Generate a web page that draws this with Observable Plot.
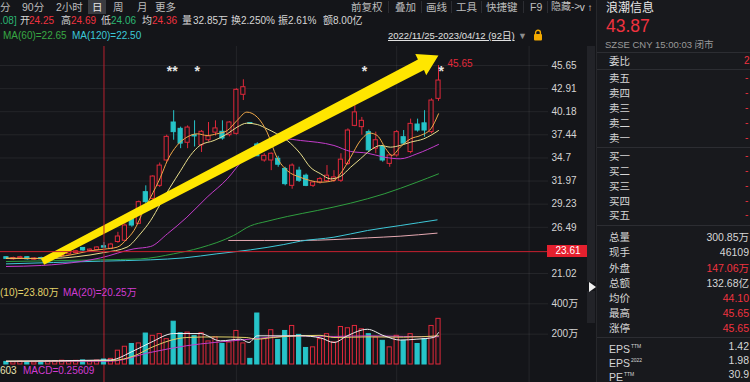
<!DOCTYPE html>
<html><head><meta charset="utf-8">
<script src="https://cdn.jsdelivr.net/npm/d3@7"></script>
<script src="https://cdn.jsdelivr.net/npm/@observablehq/plot@0.6"></script>
<style>
html,body{margin:0;padding:0;background:#141519;}
#root{position:relative;width:750px;height:382px;overflow:hidden;background:#141519;font-family:"Liberation Sans","Noto Sans CJK SC",sans-serif;color:#d6d6d6;}
#root svg{position:absolute;left:0;top:0;}
sup{font-size:5px;vertical-align:5px;margin-left:1px;}
</style></head>
<body><div id="root"></div>
<script>
// ---------- data ----------
const opens  = [22.95,22.70,22.80,22.95,22.65,22.85,22.70,22.90,23.10,23.30,23.45,24.05,23.70,23.80,24.25,23.95,24.75,24.90,27.90,26.90,30.65,29.86,31.40,34.40,38.90,38.15,36.50,37.40,36.20,36.80,37.70,37.80,37.40,37.56,42.18,38.77,36.30,34.40,34.40,34.60,33.40,31.40,33.20,32.60,31.40,31.80,31.95,32.00,32.00,34.00,38.50,38.35,37.76,35.80,36.00,34.00,35.00,37.16,35.40,38.66,38.80,37.76,41.70];
const highs  = [23.00,22.95,23.05,23.00,22.90,22.95,23.00,23.20,23.50,23.65,23.75,24.10,23.95,24.20,24.69,24.60,25.90,26.90,28.00,29.60,31.40,32.60,34.10,37.40,40.30,38.35,38.50,39.10,37.95,38.90,39.10,39.10,39.00,42.90,43.96,38.77,36.50,35.20,35.30,34.90,33.60,34.00,33.60,32.80,31.90,32.40,33.80,33.20,35.20,38.15,40.90,39.50,38.00,37.76,36.20,35.20,37.95,37.95,39.30,39.30,40.30,41.70,45.65];
const lows   = [22.70,22.60,22.70,22.60,22.55,22.60,22.65,22.85,23.00,23.20,23.35,23.60,23.60,23.70,24.06,23.85,24.60,24.80,26.50,26.80,29.30,29.70,31.20,34.20,36.80,35.80,35.80,36.00,35.35,36.60,37.30,36.80,37.20,37.40,41.50,38.77,34.90,34.20,33.20,33.60,31.40,31.00,31.80,31.30,31.20,31.60,31.80,31.80,31.80,33.80,38.40,37.40,35.40,35.20,34.20,33.60,34.80,36.20,35.20,37.76,37.16,37.56,41.40];
const closes = [22.75,22.85,22.95,22.70,22.80,22.70,22.90,23.10,23.40,23.55,23.65,23.75,23.85,24.10,24.08,24.45,25.40,26.70,26.70,29.47,29.47,32.50,33.80,37.20,37.76,36.40,38.30,37.25,37.80,37.25,38.20,37.00,38.90,42.77,43.08,38.77,34.90,34.95,35.20,33.90,31.60,33.80,32.00,31.40,31.80,32.20,32.60,32.40,34.50,37.95,40.10,39.10,35.60,36.80,34.40,35.00,37.76,36.40,38.74,37.95,37.95,41.50,43.87];
const volumes = [17,15,19,16,14,19,21,23,25,22,24,27,20,26,32.85,37,91,117,135,139,204,189,200,167,282,206,210,187,206,152,178,135,145,221,139,37,336,167,226,161,221,254,195,109,113,167,200,145,247,239,254,232,200,178,156,113,189,156,200,135,167,254,300.85];

// moving-average lines, [candle index, value]
const ma5  = [[0,22.85],[4,22.8],[8,23.05],[10,23.35],[12,23.7],[14,23.9],[15.9,24.14],[17.3,25.1],[18.3,26.1],[19.7,28.5],[20.7,30.06],[22.1,32.4],[23.1,34.4],[24.5,36.2],[25.9,37.16],[27.4,37.56],[28.8,37.36],[30.2,37.56],[31.7,37.95],[33.1,39.14],[34.5,40.13],[36,39.53],[37.4,37.76],[38.8,34.8],[40.3,33.2],[42.2,32.4],[43.6,32.03],[45.1,31.83],[47,32.03],[47.9,32.8],[49.4,34.8],[50.8,36.77],[52.2,37.64],[53.2,37.36],[54.6,35.6],[55.3,35.0],[56.5,35.98],[58,36.97],[59.4,37.36],[60.9,38.15],[62,39.93]];
const ma10 = [[0,22.8],[6,22.8],[10,23.0],[14,23.5],[17.3,24.14],[19.2,25.7],[20.7,27.3],[22.1,29.27],[23.5,31.24],[25,33.2],[26.4,35.0],[27.8,36.2],[29.8,36.77],[31.7,37.56],[33.1,38.35],[34.5,38.82],[36,38.66],[37.4,38.15],[38.8,37.56],[40.3,36.77],[42.2,35.19],[43.6,33.61],[45.1,32.82],[46.5,32.23],[47.9,32.5],[49.4,33.61],[50.8,34.6],[52.2,35.6],[53.7,36.18],[55.1,35.98],[56.5,36.18],[58,36.57],[59.9,36.97],[62,37.95]];
const ma20 = [[0,21.85],[5,21.97],[8,22.16],[13.5,22.87],[18.3,23.94],[20.7,24.22],[23.1,25.72],[25.9,27.69],[28.8,30.06],[31.7,32.23],[34.1,34.6],[36.9,36.18],[39.8,36.97],[42.2,36.77],[47,36.18],[49.4,35.47],[51.8,35.27],[54.2,34.8],[56.5,34.6],[58.9,35.19],[62,36.3]];
const ma60 = [[0,22.44],[13.5,22.64],[19.2,22.75],[24,23.35],[27.8,24.06],[32.6,25.52],[35,26.66],[37.4,27.2],[40.3,27.77],[44.6,28.48],[49.4,29.35],[54.2,30.45],[58.9,31.83],[62,32.82]];
const ma120 = [[0,22.16],[13.5,22.48],[20.7,22.64],[25.5,22.87],[30.2,23.35],[35,23.82],[39.8,24.45],[42.2,24.85],[47,25.32],[51.8,26.11],[56.5,26.7],[61.8,27.37]];
const ma250 = [[31.9,24.93],[42.2,24.93],[47,25.04],[51.8,25.24],[56.5,25.44],[61.8,25.8]];
const volMa5  = [[0,22],[14.9,30],[18.3,91],[20.7,145],[24,204],[27.8,204],[30.7,156],[33.6,167],[34.8,145],[36,189],[42.2,189],[45.1,175],[47,145],[48.9,189],[51.8,232],[54.2,189],[56.5,161],[58.9,167],[61.3,178],[62,210]];
const volMa10 = [[0,22],[15,26],[18.5,60],[20.7,110],[25.9,178],[30,182],[34.4,178],[35.9,167],[38.3,178],[42.2,190],[45,192],[47,178],[52,182],[57,180],[62,189]];
const volMa20 = [[0,20],[15,22],[20.7,80],[25.9,124],[29.8,145],[33.6,161],[37.4,178],[42.2,189],[47,185],[52,189],[57,185],[62,183]];

const priceTicks = [45.65, 42.91, 40.18, 37.44, 34.7, 31.97, 29.23, 26.49, 21.02];
const volTicks = [200, 400];
const monthStarts = [33, 56, 75];
const crossIndex = 14;
const crossPrice = 23.61;
const markers = [{i: 23, label: "**"}, {i: 27, label: "*"}, {i: 51, label: "*"}, {i: 62, label: "*"}];
// arrow drawn with the drawing tool: outline vertices as [candle index, price]
const arrowShape = [[5.41,22.07],[59.92,45.12],[60.24,44.49],[61.99,46.83],[58.67,47.0],[59.05,46.37],[4.95,22.81]];

// ---------- styling ----------
const red = "#e0293b", cyan = "#26c4c9", bg = "#141519";
const FONT = '"Liberation Sans","Noto Sans CJK SC",sans-serif';
const candles = opens.map((o, i) => {
  const c = closes[i], prev = i ? closes[i - 1] : c;
  return {i, o, h: highs[i], l: lows[i], c, v: volumes[i], up: c > o || (c === o && c >= prev)};
});
const xScale = {type: "linear", domain: [0, 62], range: [5.9, 438], axis: null};
const lineOf = (arr, color) => Plot.line(arr, {x: d => d[0], y: d => d[1], stroke: color, strokeWidth: 1, curve: "monotone-x"});
const svgStyle = {background: "transparent", color: "#d6d6d6", fontFamily: FONT, fontSize: "10px", overflow: "visible"};

const root = document.getElementById("root");

const priceChart = Plot.plot({
  width: 595, height: 382,
  marginTop: 46, marginRight: 47, marginBottom: 0, marginLeft: 0,
  style: svgStyle,
  x: xScale,
  y: {domain: [21.02, 45.65], range: [273, 65], axis: null},
  color: {type: "identity"},
  marks: [
    Plot.gridY(priceTicks, {stroke: "#ffffff", strokeOpacity: 0.07}),
    Plot.ruleX(monthStarts, {stroke: "#ffffff", strokeOpacity: 0.07}),
    Plot.ruleX(candles, {x: "i", y1: "l", y2: "h", stroke: d => d.up ? red : cyan, strokeWidth: 1}),
    Plot.rect(candles, {
      x1: d => d.i - 0.3, x2: d => d.i + 0.3,
      y1: d => Math.min(d.o, d.c), y2: d => Math.max(d.o, d.c) + (d.o === d.c ? 0.06 : 0),
      fill: d => d.up ? bg : cyan, stroke: d => d.up ? red : cyan, strokeWidth: 1
    }),
    lineOf(ma250, "#e6a9b2"),
    lineOf(ma120, "#3ec8d8"),
    lineOf(ma60, "#2f9e3f"),
    lineOf(ma20, "#c43ccb"),
    lineOf(ma10, "#e8de8c"),
    lineOf(ma5, "#f0a848"),
    Plot.line(arrowShape, {x: d => d[0], y: d => d[1], fill: "#ffe600", stroke: "none", curve: "linear"}),
    Plot.ruleX([crossIndex], {stroke: "#b8202f", strokeWidth: 1}),
    Plot.ruleY([crossPrice], {stroke: "#c8202f", strokeWidth: 1}),
    Plot.text(markers, {x: "i", text: "label", frameAnchor: "top", dy: 20, textAnchor: "start", fill: "#e6e6e6", fontSize: 14, fontWeight: "bold"}),
    Plot.text([candles[62]], {x: "i", y: "h", text: d => d.h.toFixed(2), dx: 9, dy: -2, textAnchor: "start", fill: red, fontSize: 10}),
    Plot.axisY(priceTicks, {anchor: "right", tickSize: 0, tickPadding: 3, fill: "#d4d4d4", fontSize: 10, tickFormat: d => String(d)})
  ]
});
root.appendChild(priceChart);

const volChart = Plot.plot({
  width: 595, height: 382,
  marginTop: 0, marginRight: 47, marginBottom: 0, marginLeft: 0,
  style: svgStyle,
  x: xScale,
  y: {domain: [0, 400], range: [364, 303.3], axis: null},
  color: {type: "identity"},
  marks: [
    Plot.gridY(volTicks, {stroke: "#ffffff", strokeOpacity: 0.07}),
    Plot.rect(candles, {
      x1: d => d.i - 0.3, x2: d => d.i + 0.3, y1: 0, y2: "v",
      fill: d => d.up ? bg : cyan, stroke: d => d.up ? red : cyan, strokeWidth: 1
    }),
    lineOf(volMa20, "#c43ccb"),
    lineOf(volMa10, "#e3d36a"),
    lineOf(volMa5, "#f0f0f0"),
    Plot.axisY(volTicks, {anchor: "right", tickSize: 0, tickPadding: 3, fill: "#d4d4d4", fontSize: 10, tickFormat: d => d + "万"})
  ]
});
root.appendChild(volChart);

// ---------- HTML text ----------
function box(x, y, w, h, color) {
  const d = document.createElement("div");
  d.style.cssText = `position:absolute;left:${x}px;top:${y}px;width:${w}px;height:${h}px;background:${color};`;
  root.appendChild(d);
  return d;
}
function txt(s, x, yc, o = {}) {
  const d = document.createElement("div");
  const fs = o.size || 10;
  if (o.html) d.innerHTML = s; else d.textContent = s;
  d.style.cssText = `position:absolute;white-space:nowrap;font-size:${fs}px;line-height:${fs + 2}px;top:${yc - (fs + 2) / 2}px;color:${o.color || "#d6d6d6"};`;
  if (o.right != null) d.style.right = (750 - o.right) + "px"; else d.style.left = x + "px";
  if (o.underline) d.style.textDecoration = "underline";
  if (o.center) { d.style.width = o.width + "px"; d.style.textAlign = "center"; }
  root.appendChild(d);
  return d;
}

// crosshair price label placed with the chart's own y scale
const yCross = priceChart.scale("y").apply(crossPrice);
box(547, yCross - 6, 42, 12, "#e5202e");
txt(crossPrice.toFixed(2), 547, yCross, {color: "#ffffff", center: true, width: 42});

// scrollbar strip
box(587, 46, 8, 236, "#222328");
box(587, 291, 8, 32, "#222328");
const tri = document.createElementNS("http://www.w3.org/2000/svg", "svg");
tri.setAttribute("width", "8"); tri.setAttribute("height", "10");
tri.style.cssText = "position:absolute;left:589px;top:282px;";
tri.innerHTML = '<polygon points="0,0 7,5 0,10" fill="#f0f0f0"/>';
root.appendChild(tri);

// toolbar row
const tb = "#bdbdbd";
box(88, 0, 18, 14, "#3a3c41");
txt("分", 0, 7, {size: 10.5, color: tb});
txt("90分", 22, 7, {size: 10.5, color: tb});
txt("2小时", 56, 7, {size: 10.5, color: tb});
txt("日", 92, 7, {size: 10.5, color: "#e6e6e6"});
txt("周", 113, 7, {size: 10.5, color: tb});
txt("月", 137, 7, {size: 10.5, color: tb});
txt("更多", 155, 7, {size: 10.5, color: tb});
[["前复权", 351], ["叠加", 395], ["画线", 426], ["工具", 456], ["快捷键", 486], ["F9", 530], ["隐藏->", 551]].forEach(([s, x]) => txt(s, x, 7, {size: s === "隐藏->" ? 10 : 10.5, color: tb}));
[388, 421, 451, 481, 523, 547].forEach(x => box(x, 1, 1, 12, "#2c2d32"));

// quote row
const R = "#f0323f", G = "#2bb673", W = "#d6d6d6";
txt(".08]", 0, 21, {color: G});
txt("开", 20, 21, {color: W}); txt("24.25", 29, 21, {color: R});
txt("高", 61, 21, {color: W}); txt("24.69", 71, 21, {color: R});
txt("低", 101, 21, {color: W}); txt("24.06", 111, 21, {color: G});
txt("均", 142, 21, {color: W}); txt("24.36", 152, 21, {color: R});
txt("量", 182, 21, {color: W}); txt("32.85万", 193, 21, {color: W});
txt("换", 231, 21, {color: W}); txt("2.250%", 241, 21, {color: W});
txt("振", 278, 21, {color: W}); txt("2.61%", 288, 21, {color: W});
txt("额", 323, 21, {color: W}); txt("8.00亿", 333, 21, {color: W});

// MA legend row
txt("MA(60)=22.65", 3, 36, {color: "#38a844"});
txt("MA(120)=22.50", 72, 36, {color: "#3cc8d8"});
txt("2022/11/25-2023/04/12 (92日)", 388, 36, {size: 9.5, color: "#e0e0e0", underline: true});
txt("▼", 518, 36, {color: "#8c8c8c", size: 9});
const lock = document.createElementNS("http://www.w3.org/2000/svg", "svg");
lock.setAttribute("width", "10"); lock.setAttribute("height", "12");
lock.style.cssText = "position:absolute;left:533px;top:29px;";
lock.innerHTML = '<path d="M2.6 5.2V3.6a2.4 2.4 0 0 1 4.8 0V5.2" fill="none" stroke="#f2a900" stroke-width="1.4"/><rect x="1" y="5" width="8" height="6.5" rx="1" fill="#f2a900"/>';
root.appendChild(lock);

// volume / MACD legends
txt("(10)=23.80万", 0, 293, {color: "#e3d36a"});
txt("MA(20)=20.25万", 63, 293, {color: "#d23cd2"});
txt("603", 0, 371, {color: "#e8e2b0"});
txt("MACD=0.25609", 23, 371, {color: "#d23cd2"});

// right panel
const panel = box(596, 0, 154, 382, "#18191d");
panel.style.borderLeft = "1px solid #26272b";
[52, 69, 147, 225, 337].forEach(y => box(597, y, 153, 1, "#2c2d32"));
txt("浪潮信息", 606, 8, {size: 12, color: "#e8e8e8"});
txt("43.87", 606, 27, {size: 17.5, color: R});
txt("SZSE  CNY  15:00:03  闭市", 605, 45, {size: 9.5, color: "#9a9a9a"});
txt("委比", 609, 61, {size: 10.5, color: W}); txt("2", 744, 61, {color: R});
const book = [["卖五", 78], ["卖四", 93], ["卖三", 108], ["卖二", 123], ["卖一", 138], ["买一", 156], ["买二", 171], ["买三", 186], ["买四", 201], ["买五", 215]];
book.forEach(([s, y]) => { txt(s, 609, y, {size: 10.5, color: W}); txt("-", 745, y, {color: R}); });
const stats = [["总量", 237, "300.85万", W], ["现手", 252, "46109", W], ["外盘", 268, "147.06万", R], ["总额", 283, "132.68亿", W], ["均价", 298, "44.10", R], ["最高", 313, "45.65", R], ["涨停", 328, "45.65", R]];
stats.forEach(([s, y, v, c]) => { txt(s, 609, y, {size: 10.5, color: W}); txt(v, 0, y, {size: 10.5, color: c, right: 749}); });
const fin = [["EPS<sup>TTM</sup>", 346, "1.42"], ["EPS<sup>2022</sup>", 360.5, "1.98"], ["PE<sup>TTM</sup>", 374.5, "30.9"]];
fin.forEach(([s, y, v]) => { txt(s, 609, y, {size: 10.5, color: W, html: true}); txt(v, 0, y, {size: 10.5, color: W, right: 749}); });
</script></body></html>
